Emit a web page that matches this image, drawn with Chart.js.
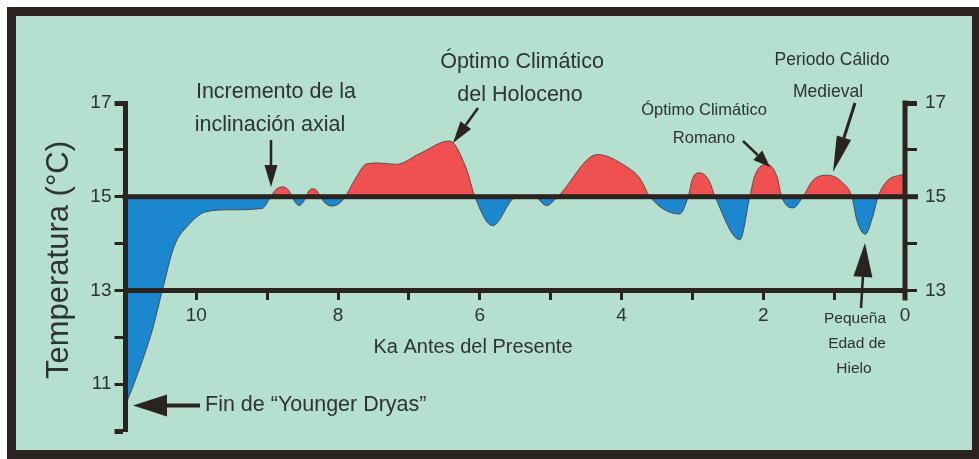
<!DOCTYPE html>
<html>
<head>
<meta charset="utf-8">
<style>
  html, body { margin: 0; padding: 0; background: #fff; overflow: hidden; }
  #frame { position: absolute; left: 7px; top: 7px; width: 974px; height: 452px; box-sizing: border-box;
           border: 9px solid #2a2320; background: #b5dfcf; }
  #chart { position: absolute; left: 0; top: 0; }
</style>
<script src="https://cdn.jsdelivr.net/npm/chart.js@4/dist/chart.umd.min.js"></script>
</head>
<body>
<div id="frame"></div>
<canvas id="chart" width="979" height="459"></canvas>
<script>
// Holocene temperature reconstruction (Ka before present vs. °C)
const kaBP = [11.0, 10.86, 10.62, 10.48, 10.31, 10.12, 9.86, 9.5, 9.07, 8.95,
              8.88, 8.78, 8.70, 8.65, 8.60, 8.55, 8.50, 8.45, 8.41, 8.36,
              8.30, 8.25, 8.18, 8.08, 7.98, 7.9, 7.75, 7.6, 7.42, 7.18,
              6.85, 6.43, 6.19, 6.07, 5.82, 5.48, 5.23, 5.06, 4.9, 4.34,
              3.93, 3.74, 3.6, 3.18, 3.06, 3.0, 2.9, 2.76, 2.68, 2.33,
              2.19, 2.12, 1.94, 1.80, 1.74, 1.58, 1.44, 1.30, 1.09, 0.88,
              0.75, 0.68, 0.56, 0.45, 0.38, 0.25, 0.07, 0.0];
const tempC = [10.55, 11.09, 12.16, 13.0, 13.95, 14.38, 14.68, 14.72, 14.75, 15.0,
               15.15, 15.21, 15.14, 15.0, 14.87, 14.81, 14.87, 15.0, 15.13, 15.17,
               15.13, 15.0, 14.86, 14.8, 14.86, 15.0, 15.4, 15.7, 15.72, 15.69,
               15.92, 16.19, 15.6, 15.0, 14.38, 15.0, 15.0, 14.81, 15.0, 15.9,
               15.64, 15.39, 15.0, 14.63, 15.0, 15.38, 15.51, 15.33, 15.0, 14.08,
               15.0, 15.45, 15.69, 15.4, 15.0, 14.76, 15.0, 15.35, 15.46, 15.3,
               15.0, 14.5, 14.2, 14.6, 15.0, 15.34, 15.46, 15.47];
const baseline = 15;
const leftTickLabels = [11, 13, 15, 17];
const rightTickLabels = [13, 15, 17];
const xTickLabels = [0, 2, 4, 6, 8, 10];

const ink = '#2a2320';
const textInk = '#2f3331';
const font = size => size + 'px "Liberation Sans", Arial, sans-serif';

function arrow(ctx, x1, y1, x2, y2, headLen, headW, lineW) {
  const ang = Math.atan2(y2 - y1, x2 - x1);
  const bx = x2 - Math.cos(ang) * headLen, by = y2 - Math.sin(ang) * headLen;
  ctx.strokeStyle = ink;
  ctx.fillStyle = ink;
  ctx.lineWidth = lineW;
  ctx.beginPath(); ctx.moveTo(x1, y1); ctx.lineTo(bx, by); ctx.stroke();
  const px = -Math.sin(ang) * headW / 2, py = Math.cos(ang) * headW / 2;
  ctx.beginPath();
  ctx.moveTo(x2, y2); ctx.lineTo(bx + px, by + py); ctx.lineTo(bx - px, by - py);
  ctx.closePath(); ctx.fill();
}

const overlay = {
  id: 'overlay',
  afterDatasetsDraw(chart) {
    const {ctx, chartArea: a, scales: {y}} = chart;
    const y15 = y.getPixelForValue(baseline);
    const y17 = y.getPixelForValue(17);
    const y13 = y.getPixelForValue(13);
    ctx.save();
    ctx.fillStyle = ink;
    // thick 15 °C reference line
    ctx.fillRect(a.left - 3, y15 - 2.5, a.right + 13 - (a.left - 3), 5);
    // right axis, 17 down to just below 13
    ctx.fillRect(a.right - 2.5, y17 - 2.5, 5, y13 + 10 - y17 + 2.5);
    ctx.restore();
  },
  afterDraw(chart) {
    const ctx = chart.ctx;
    ctx.save();
    ctx.fillStyle = textInk;
    ctx.textAlign = 'center';
    ctx.textBaseline = 'middle';

    ctx.font = font(21.5);
    ctx.fillText('Incremento de la', 276, 92);
    ctx.fillText('inclinación axial', 270, 125);
    ctx.fillText('Óptimo Climático', 522, 62);
    ctx.fillText('del Holoceno', 520, 95);
    ctx.textAlign = 'left';
    ctx.fillText('Fin de “Younger Dryas”', 205, 405);
    ctx.textAlign = 'center';

    ctx.font = font(16.5);
    ctx.fillText('Óptimo Climático', 704, 110);
    ctx.fillText('Romano', 704, 138);

    ctx.font = font(17.5);
    ctx.fillText('Periodo Cálido', 832, 60);
    ctx.fillText('Medieval', 828, 92);

    ctx.font = font(15.5);
    ctx.fillText('Pequeña', 855, 319);
    ctx.fillText('Edad de', 857, 344);
    ctx.fillText('Hielo', 854, 369);

    ctx.font = font(20);
    ctx.fillText('Ka Antes del Presente', 473, 347);

    // y axis title
    ctx.save();
    ctx.translate(59, 260);
    ctx.rotate(-Math.PI / 2);
    ctx.font = font(31);
    ctx.fillText('Temperatura (°C)', 0, 0);
    ctx.restore();

    arrow(ctx, 271, 140, 271, 187, 22, 13, 2.5);
    arrow(ctx, 478, 108, 453, 143, 22, 13, 2.5);
    arrow(ctx, 743, 141, 770, 167, 17, 13, 2.5);
    arrow(ctx, 855, 103, 833, 172, 36, 15, 3);
    arrow(ctx, 861, 308, 865, 243, 34, 19, 2.5);
    arrow(ctx, 200, 405.5, 133, 405.5, 34, 22, 4);
    ctx.restore();
  }
};

new Chart(document.getElementById('chart'), {
  type: 'line',
  data: {
    datasets: [{
      data: kaBP.map((k, i) => ({x: k, y: tempC[i]})),
      borderColor: 'rgba(70,40,40,0.7)',
      borderWidth: 1,
      pointRadius: 0,
      cubicInterpolationMode: 'monotone',
      fill: {target: {value: baseline}, above: '#ef5150', below: '#1b87cf'}
    }]
  },
  options: {
    responsive: false,
    animation: false,
    layout: {padding: {left: 0, right: 0, top: 103, bottom: 28}},
    plugins: {legend: {display: false}, tooltip: {enabled: false}},
    scales: {
      x: {
        type: 'linear',
        position: {y: 13},
        reverse: true,
        min: 0,
        max: 11,
        border: {display: true, color: ink, width: 5, z: 1},
        grid: {drawOnChartArea: false, drawTicks: true, tickLength: 7, tickWidth: 3, tickColor: ink},
        ticks: {
          stepSize: 1, autoSkip: false, maxRotation: 0, padding: 7,
          color: textInk, font: {family: '"Liberation Sans", Arial, sans-serif', size: 19},
          callback: v => xTickLabels.includes(v) ? String(v) : ''
        }
      },
      y: {
        position: 'left',
        min: 10,
        max: 17,
        afterFit: s => { s.width = 125.5; },
        border: {display: true, color: ink, width: 5, z: 1},
        grid: {
          drawOnChartArea: false, drawTicks: true, tickLength: 11, tickColor: ink,
          tickWidth: c => (c.tick && (c.tick.value === 17 || c.tick.value === 10)) ? 5 : 3
        },
        ticks: {
          stepSize: 1, padding: 3, color: textInk,
          font: {family: '"Liberation Sans", Arial, sans-serif', size: 19},
          callback: v => leftTickLabels.includes(v) ? String(v) : ''
        }
      },
      y2: {
        position: 'right',
        min: 10,
        max: 17,
        afterFit: s => { s.width = 74; },
        border: {display: false},
        grid: {
          drawOnChartArea: false, drawTicks: true, tickLength: 12,
          tickColor: c => (c.tick && c.tick.value >= 13) ? ink : 'rgba(0,0,0,0)',
          tickWidth: c => (c.tick && c.tick.value === 17) ? 5 : 3
        },
        ticks: {
          stepSize: 1, padding: 8, color: textInk,
          font: {family: '"Liberation Sans", Arial, sans-serif', size: 19},
          callback: v => rightTickLabels.includes(v) ? String(v) : ''
        }
      }
    }
  },
  plugins: [overlay]
});
</script>
</body>
</html>
